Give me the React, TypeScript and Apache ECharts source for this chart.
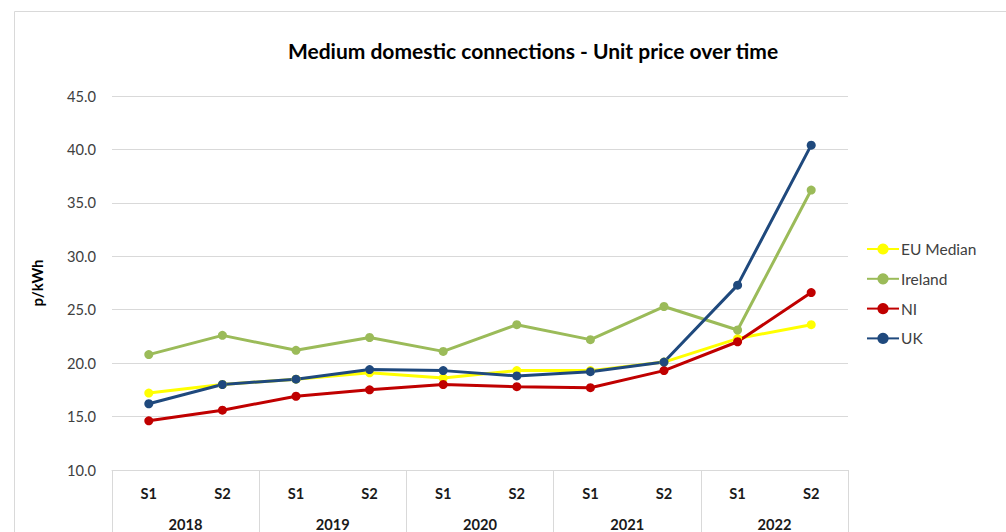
import React, { useEffect, useRef } from "react";
import * as echarts from "echarts";

const periods = ["S1", "S2", "S1", "S2", "S1", "S2", "S1", "S2", "S1", "S2"];
const years = ["2018", "2019", "2020", "2021", "2022"];
const euMedian = [17.2, 18.0, 18.5, 19.1, 18.6, 19.3, 19.3, 20.1, 22.3, 23.6];
const ireland = [20.8, 22.6, 21.2, 22.4, 21.1, 23.6, 22.2, 25.3, 23.1, 36.2];
const ni = [14.6, 15.6, 16.9, 17.5, 18.0, 17.8, 17.7, 19.3, 22.0, 26.6];
const uk = [16.2, 18.0, 18.5, 19.4, 19.3, 18.8, 19.2, 20.1, 27.3, 40.4];
const yTicks = { min: 10, max: 45, interval: 5 };

const FONT = "Lato, 'Noto Sans', sans-serif";

export default function App() {
  const ref = useRef<HTMLDivElement>(null);
  useEffect(() => {
    if (!ref.current) return;
    const chart = echarts.init(ref.current, null, { renderer: "svg" });
    const mk = (name: string, data: number[], color: string) => ({
      name,
      type: "line",
      data,
      xAxisIndex: 0,
      symbol: "circle",
      symbolSize: 9,
      lineStyle: { width: 3, color },
      itemStyle: { color },
    });
    chart.setOption({
      animation: false,
      backgroundColor: "#fff",
      textStyle: { fontFamily: FONT },
      title: {
        text: "Medium domestic connections - Unit price over time",
        left: 533,
        textAlign: "center",
        top: 40,
        padding: 0,
        textStyle: { fontFamily: FONT, fontSize: 21, fontWeight: "bold", color: "#000" },
      },
      graphic: [
        {
          type: "rect",
          shape: { x: 14.5, y: 11.5, width: 1100, height: 700 },
          style: { fill: "none", stroke: "#d9d9d9", lineWidth: 1 },
          silent: true,
        },
      ],
      legend: {
        orient: "vertical",
        left: 866,
        top: 241,
        itemWidth: 32,
        itemHeight: 14,
        itemGap: 13.8,
        padding: 0,
        textStyle: { fontFamily: FONT, fontSize: 15.5, color: "#404040", padding: [0, 0, 0, -3] },
        data: ["EU Median", "Ireland", "NI", "UK"],
      },
      grid: { left: 112, right: 158, top: 96, bottom: 59, containLabel: false },
      xAxis: [
        {
          type: "category",
          data: periods,
          position: "bottom",
          boundaryGap: true,
          axisLine: { show: true, lineStyle: { color: "#d9d9d9", width: 1 } },
          axisTick: { show: false },
          axisLabel: {
            margin: 16,
            fontFamily: FONT,
            fontSize: 14.67,
            fontWeight: "bold",
            color: "#1a1a1a",
          },
        },
        {
          type: "category",
          data: years,
          position: "bottom",
          boundaryGap: true,
          axisLine: { show: false },
          axisTick: { show: true, length: 70, lineStyle: { color: "#d9d9d9", width: 1 } },
          axisLabel: {
            margin: 47,
            fontFamily: FONT,
            fontSize: 14.67,
            fontWeight: "bold",
            color: "#1a1a1a",
          },
        },
      ],
      yAxis: {
        type: "value",
        min: yTicks.min,
        max: yTicks.max,
        interval: yTicks.interval,
        name: "p/kWh",
        nameLocation: "middle",
        nameRotate: 90,
        nameGap: 68,
        nameTextStyle: { fontFamily: FONT, fontSize: 15, fontWeight: "bold", color: "#000" },
        axisLine: { show: false },
        axisTick: { show: false },
        splitLine: { lineStyle: { color: "#d9d9d9", width: 1 } },
        axisLabel: {
          margin: 16,
          fontFamily: FONT,
          fontSize: 14.67,
          color: "#404040",
          formatter: (v: number) => v.toFixed(1),
        },
      },
      series: [
        mk("EU Median", euMedian, "#FFFF00"),
        mk("Ireland", ireland, "#9BBB59"),
        mk("NI", ni, "#C00000"),
        mk("UK", uk, "#1F497D"),
      ],
    });
    return () => chart.dispose();
  }, []);
  return (
    <div
      ref={ref}
      style={{ position: "fixed", left: 0, top: 0, width: 1006, height: 532 }}
    />
  );
}
